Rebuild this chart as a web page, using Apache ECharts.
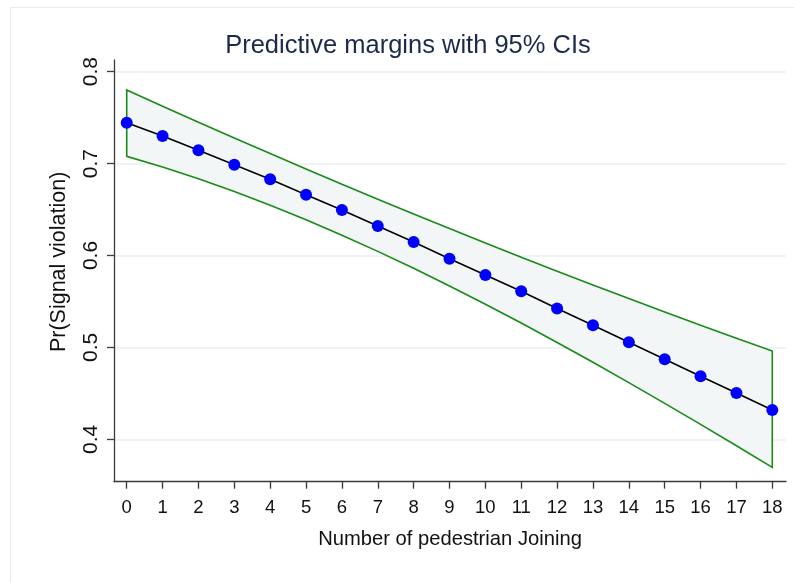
<!DOCTYPE html>
<html>
<head>
<meta charset="utf-8">
<title>Predictive margins</title>
<script src="https://cdn.jsdelivr.net/npm/echarts@6/dist/echarts.min.js"></script>
<style>
  html, body { margin: 0; padding: 0; background: #ffffff; }
  #chart { width: 794px; height: 583px; }
</style>
</head>
<body>
<div id="chart"></div>
<script>
// Number of pedestrians joining (x) and predicted probability of signal violation
const joining = [0, 1, 2, 3, 4, 5, 6, 7, 8, 9, 10, 11, 12, 13, 14, 15, 16, 17, 18];
const margin = [0.7445, 0.7300, 0.7145, 0.6988, 0.6829, 0.6662, 0.6495, 0.6321, 0.6147, 0.5965,
                0.5788, 0.5610, 0.5423, 0.5240, 0.5056, 0.4871, 0.4686, 0.4504, 0.4319];
// 95% confidence limits
const upper = [0.7801, 0.7625, 0.7450, 0.7279, 0.7109, 0.6941, 0.6776, 0.6613, 0.6452, 0.6293,
               0.6136, 0.5981, 0.5829, 0.5679, 0.5531, 0.5385, 0.5242, 0.5100, 0.4961];
const lower = [0.7079, 0.6963, 0.6835, 0.6696, 0.6547, 0.6389, 0.6221, 0.6045, 0.5861, 0.5669,
               0.5470, 0.5265, 0.5054, 0.4838, 0.4617, 0.4391, 0.4162, 0.3930, 0.3695];
// Tick labels
const xTicks = [0, 1, 2, 3, 4, 5, 6, 7, 8, 9, 10, 11, 12, 13, 14, 15, 16, 17, 18];
const yTicks = [0.4, 0.5, 0.6, 0.7, 0.8];

const FONT = "'Liberation Sans', Arial, Helvetica, sans-serif";
const AXIS_COLOR = '#3a3a3a';

const chart = echarts.init(document.getElementById('chart'), null, { renderer: 'canvas' });

const bandData = joining.map((x, i) => [x, lower[i], upper[i]]);

chart.setOption({
  backgroundColor: '#ffffff',
  animation: false,
  graphic: [{
    type: 'rect',
    silent: true,
    shape: { x: 10.5, y: 7.5, width: 820, height: 620 },
    style: { fill: null, stroke: '#e3edf1', lineWidth: 1.2 }
  }],
  title: {
    text: 'Predictive margins with 95% CIs',
    left: 403,
    textAlign: 'center',
    top: 28,
    textStyle: { fontFamily: FONT, fontSize: 25.5, fontWeight: 'normal', color: '#1b2a4c' }
  },
  grid: { left: 114, right: 8, top: 60, bottom: 101.3 },
  xAxis: {
    type: 'value',
    min: -0.3545,
    max: 18.382,
    name: 'Number of pedestrian Joining',
    nameLocation: 'middle',
    nameGap: 48,
    nameTextStyle: { fontFamily: FONT, fontSize: 20.2, color: '#111111' },
    axisLine: { show: true, onZero: false, lineStyle: { color: AXIS_COLOR, width: 1.3 } },
    axisTick: { show: true, length: 7, customValues: xTicks, lineStyle: { color: AXIS_COLOR, width: 1.3 } },
    axisLabel: { customValues: xTicks, fontFamily: FONT, fontSize: 18.5, color: '#111111', margin: 17 },
    splitLine: { show: false }
  },
  yAxis: {
    type: 'value',
    min: 0.35386,
    max: 0.81273,
    name: 'Pr(Signal violation)',
    nameLocation: 'middle',
    nameGap: 44,
    nameRotate: 90,
    nameTextStyle: { fontFamily: FONT, fontSize: 21.5, color: '#111111', padding: [0, 0, 0, 18] },
    axisLine: { show: true, onZero: false, lineStyle: { color: AXIS_COLOR, width: 1.3 } },
    axisTick: { show: true, length: 7, customValues: yTicks, lineStyle: { color: AXIS_COLOR, width: 1.3 } },
    axisLabel: {
      customValues: yTicks, rotate: 90, fontFamily: FONT, fontSize: 21, color: '#111111', margin: 12,
      formatter: v => v.toFixed(1)
    },
    splitLine: { show: true, lineStyle: { color: '#e8f0f2', width: 1.5 } }
  },
  series: [
    {
      // Confidence band drawn as one outlined polygon
      type: 'custom',
      name: '95% CI',
      data: bandData,
      encode: { x: 0, y: [1, 2] },
      z: 1,
      silent: true,
      renderItem: function (params, api) {
        if (params.dataIndex !== 0) return null;
        const pts = [];
        for (let i = 0; i < joining.length; i++) pts.push(api.coord([joining[i], upper[i]]));
        for (let i = joining.length - 1; i >= 0; i--) pts.push(api.coord([joining[i], lower[i]]));
        return {
          type: 'polygon',
          shape: { points: pts },
          style: { fill: '#f2f6f7', stroke: '#188a18', lineWidth: 1.6, lineJoin: 'miter' }
        };
      }
    },
    {
      type: 'line',
      name: 'Margin',
      data: joining.map((x, i) => [x, margin[i]]),
      z: 3,
      symbol: 'circle',
      symbolSize: 12,
      showSymbol: true,
      showAllSymbol: true,
      lineStyle: { color: '#000000', width: 1.6 },
      itemStyle: { color: '#0000ff', borderWidth: 0 }
    }
  ]
});
</script>
</body>
</html>
